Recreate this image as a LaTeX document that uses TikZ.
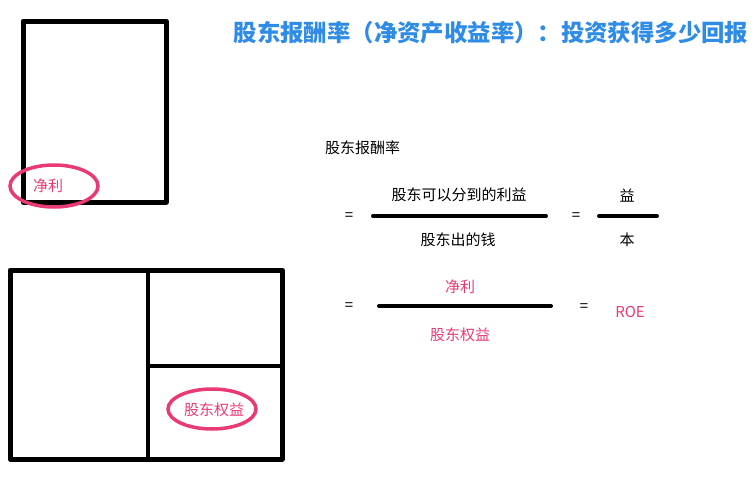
\documentclass[tikz,border=0pt]{standalone}
\usepackage{fontspec}
\setmainfont{Noto Sans CJK SC}
\definecolor{roepink}{HTML}{EA3A76}
\definecolor{titleblue}{HTML}{2F8CE6}
\begin{document}
\begin{tikzpicture}[x=1pt,y=-1pt,
  box/.style={draw=black,line width=#1,line join=round},
  box/.default=5pt,
  ring/.style={draw=roepink,line width=3.5pt},
  bar/.style={draw=black,line width=4pt,line cap=round},
  word/.style={font=\fontsize{15}{18}\selectfont,inner sep=0pt},
  pinkword/.style={word,text=roepink}]
\useasboundingbox (0,0) rectangle (756,482);
% balance sheet sketches
\draw[box] (23,21) rectangle (166,202);
\draw[box] (10,270) rectangle (282,459);
\draw[box=4pt] (148,270) -- (148,459);
\draw[box=4pt] (148,366) -- (282,366);
\draw[ring] (54,186) ellipse (44 and 21);
\node[pinkword] (net) at (48,186) {净利};
\draw[ring] (212,409) ellipse (44 and 20);
\node[pinkword] (equity) at (214,410) {股东权益};
% title
\node[font=\fontsize{23.4}{26}\selectfont\bfseries,text=titleblue,inner sep=0pt] (title) at (491,33) {股东报酬率（净资产收益率）：投资获得多少回报};
% formula
\node[word,anchor=west] (roe) at (325,148) {股东报酬率};
\node[word] (eqa) at (349,217) {=};
\node[word] (gain) at (459,195) {股东可以分到的利益};
\node[word] (paid) at (458,240) {股东出的钱};
\coordinate (ba1) at (373,216);
\coordinate (ba2) at (546,216);
\draw[bar] (ba1) -- (ba2);
\node[word] (eqb) at (576,217) {=};
\node[word] (yi) at (627,196) {益};
\node[word] (ben) at (627,240) {本};
\coordinate (bb1) at (599,216);
\coordinate (bb2) at (657,216);
\draw[bar] (bb1) -- (bb2);
\node[word] (eqc) at (349,307) {=};
\node[pinkword] (netb) at (460,287) {净利};
\node[pinkword] (equityb) at (460,335) {股东权益};
\coordinate (bc1) at (379,306);
\coordinate (bc2) at (551,306);
\draw[bar] (bc1) -- (bc2);
\node[word] (eqd) at (584,308) {=};
\node[pinkword] (roeb) at (630,312) {ROE};
\end{tikzpicture}
\end{document}
